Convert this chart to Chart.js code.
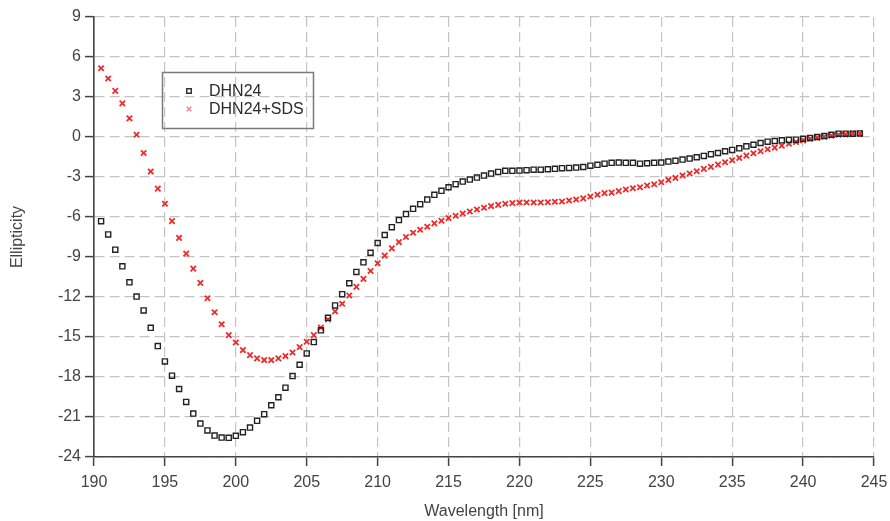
<!DOCTYPE html>
<html>
<head>
<meta charset="utf-8">
<script src="https://cdn.jsdelivr.net/npm/chart.js@4/dist/chart.umd.min.js"></script>
<style>
  html, body { margin: 0; padding: 0; background: #fff; }
  #wrap { width: 890px; height: 521px; }
</style>
</head>
<body>
<div id="wrap"><canvas id="grafica" width="890" height="521"></canvas></div>
<script>
// longitudes de onda (nm), una medida cada 0.5 nm
const wavelengths = [
  190.5, 191, 191.5, 192, 192.5, 193, 193.5, 194, 194.5, 195,
  195.5, 196, 196.5, 197, 197.5, 198, 198.5, 199, 199.5, 200,
  200.5, 201, 201.5, 202, 202.5, 203, 203.5, 204, 204.5, 205,
  205.5, 206, 206.5, 207, 207.5, 208, 208.5, 209, 209.5, 210,
  210.5, 211, 211.5, 212, 212.5, 213, 213.5, 214, 214.5, 215,
  215.5, 216, 216.5, 217, 217.5, 218, 218.5, 219, 219.5, 220,
  220.5, 221, 221.5, 222, 222.5, 223, 223.5, 224, 224.5, 225,
  225.5, 226, 226.5, 227, 227.5, 228, 228.5, 229, 229.5, 230,
  230.5, 231, 231.5, 232, 232.5, 233, 233.5, 234, 234.5, 235,
  235.5, 236, 236.5, 237, 237.5, 238, 238.5, 239, 239.5, 240,
  240.5, 241, 241.5, 242, 242.5, 243, 243.5, 244
];

const dhn24 = [
  -6.31, -7.31, -8.45, -9.70, -10.90, -11.97, -13.01, -14.31, -15.68, -16.83,
  -17.90, -18.90, -19.87, -20.74, -21.49, -22.01, -22.39, -22.54, -22.56, -22.41,
  -22.14, -21.79, -21.29, -20.79, -20.12, -19.52, -18.80, -17.93, -17.08, -16.23,
  -15.38, -14.50, -13.56, -12.63, -11.79, -10.97, -10.12, -9.40, -8.68, -7.95,
  -7.35, -6.76, -6.23, -5.78, -5.39, -5.04, -4.69, -4.34, -4.04, -3.77,
  -3.54, -3.34, -3.19, -3.04, -2.89, -2.74, -2.62, -2.54, -2.54, -2.52,
  -2.49, -2.45, -2.45, -2.42, -2.39, -2.34, -2.32, -2.29, -2.25, -2.15,
  -2.09, -2.00, -1.94, -1.92, -1.94, -1.94, -2.00, -1.97, -1.94, -1.92,
  -1.84, -1.79, -1.69, -1.62, -1.52, -1.42, -1.29, -1.20, -1.07, -0.97,
  -0.85, -0.70, -0.58, -0.45, -0.35, -0.30, -0.25, -0.22, -0.20, -0.13,
  -0.07, 0.00, 0.07, 0.17, 0.25, 0.25, 0.25, 0.27
];

const dhn24Sds = [
  5.16, 4.39, 3.46, 2.52, 1.40, 0.17, -1.20, -2.59, -3.87, -5.01,
  -6.31, -7.57, -8.75, -9.87, -10.94, -12.09, -13.14, -14.04, -14.86, -15.41,
  -15.98, -16.36, -16.60, -16.73, -16.73, -16.60, -16.43, -16.16, -15.76, -15.36,
  -14.86, -14.30, -13.69, -13.08, -12.51, -11.89, -11.24, -10.64, -10.05, -9.47,
  -8.90, -8.35, -7.88, -7.50, -7.18, -6.96, -6.73, -6.48, -6.28, -6.08,
  -5.91, -5.74, -5.59, -5.44, -5.31, -5.18, -5.09, -5.01, -4.96, -4.91,
  -4.91, -4.91, -4.91, -4.89, -4.86, -4.84, -4.76, -4.69, -4.60, -4.46,
  -4.33, -4.21, -4.17, -4.06, -3.94, -3.84, -3.77, -3.64, -3.54, -3.39,
  -3.22, -3.07, -2.89, -2.74, -2.57, -2.39, -2.24, -2.07, -1.89, -1.74,
  -1.57, -1.40, -1.22, -1.07, -0.92, -0.80, -0.65, -0.50, -0.37, -0.25,
  -0.13, -0.05, 0.02, 0.10, 0.17, 0.20, 0.25, 0.25
];

const seriesNames = ["DHN24", "DHN24+SDS"];
const xTicks = [190, 195, 200, 205, 210, 215, 220, 225, 230, 235, 240, 245];
const yTicks = [-24, -21, -18, -15, -12, -9, -6, -3, 0, 3, 6, 9];

const fontFamily = "'Liberation Sans', Arial, sans-serif";

function puntos(valores) {
  return wavelengths.map((x, i) => ({ x: x, y: valores[i] }));
}

// leyenda dentro del area de la grafica, con marco
const leyendaCaja = {
  id: 'leyendaCaja',
  afterDraw(chart) {
    const ctx = chart.ctx;
    ctx.save();
    ctx.strokeStyle = '#7a7a7a';
    ctx.lineWidth = 1.5;
    ctx.strokeRect(162.5, 72.5, 151, 56);
    ctx.font = '16px ' + fontFamily;
    ctx.textBaseline = 'middle';
    chart.data.datasets.forEach((ds, i) => {
      const y = 91 + i * 18;
      ctx.strokeStyle = i === 0 ? '#333' : '#f08a8a';
      ctx.fillStyle = 'rgba(0,0,0,0)';
      Chart.helpers.drawPoint(ctx, {
        pointStyle: ds.pointStyle,
        radius: 3.2,
        borderWidth: i === 0 ? 1.1 : 0.9,
        rotation: 0
      }, 189, y);
      ctx.fillStyle = '#2a2a2a';
      ctx.fillText(ds.label, 209, y + 1);
    });
    ctx.restore();
  }
};

const gridComun = {
  color: '#c4c4c4',
  lineWidth: 1.2,
  tickLength: 9,
  tickColor: '#444',
  tickWidth: 1.5,
  tickBorderDash: []
};

const ctx = document.getElementById('grafica').getContext('2d');

const myChart = new Chart(ctx, {
  type: 'scatter',
  data: {
    datasets: [
      {
        label: seriesNames[0],
        data: puntos(dhn24),
        pointStyle: 'rect',
        pointRadius: 3.6,
        pointBorderWidth: 1.4,
        borderColor: '#222222',
        backgroundColor: 'rgba(0,0,0,0)'
      },
      {
        label: seriesNames[1],
        data: puntos(dhn24Sds),
        pointStyle: 'crossRot',
        pointRadius: 3.8,
        pointBorderWidth: 1.8,
        borderColor: '#ee2b2b',
        backgroundColor: 'rgba(0,0,0,0)'
      }
    ]
  },
  options: {
    responsive: false,
    animation: false,
    layout: { padding: { top: 17, right: 16, left: 0, bottom: 0 } },
    plugins: {
      legend: { display: false },
      tooltip: { enabled: false }
    },
    scales: {
      x: {
        type: 'linear',
        min: 190,
        max: 245,
        afterBuildTicks(axis) { axis.ticks = xTicks.map(v => ({ value: v })); },
        afterFit(axis) {
          axis.height = 64;
          axis.paddingLeft = 0;
          axis.paddingRight = 0;
        },
        ticks: {
          color: '#444',
          font: { family: fontFamily, size: 16 },
          padding: 7,
          maxRotation: 0
        },
        grid: gridComun,
        border: { display: true, color: '#444', width: 1.6, dash: [10, 5] },
        title: {
          display: true,
          text: 'Wavelength [nm]',
          color: '#444',
          font: { family: fontFamily, size: 16 },
          padding: { top: 0, bottom: 0 }
        }
      },
      y: {
        type: 'linear',
        min: -24,
        max: 9,
        afterBuildTicks(axis) { axis.ticks = yTicks.map(v => ({ value: v })); },
        afterFit(axis) { axis.width = 94; },
        ticks: {
          color: '#444',
          font: { family: fontFamily, size: 16 },
          padding: 4
        },
        grid: gridComun,
        border: { display: true, color: '#444', width: 1.6, dash: [10, 5] },
        title: {
          display: true,
          text: 'Ellipticity',
          color: '#444',
          font: { family: fontFamily, size: 16 },
          padding: { top: 8, bottom: 0 }
        }
      }
    }
  },
  plugins: [leyendaCaja]
});
</script>
</body>
</html>
